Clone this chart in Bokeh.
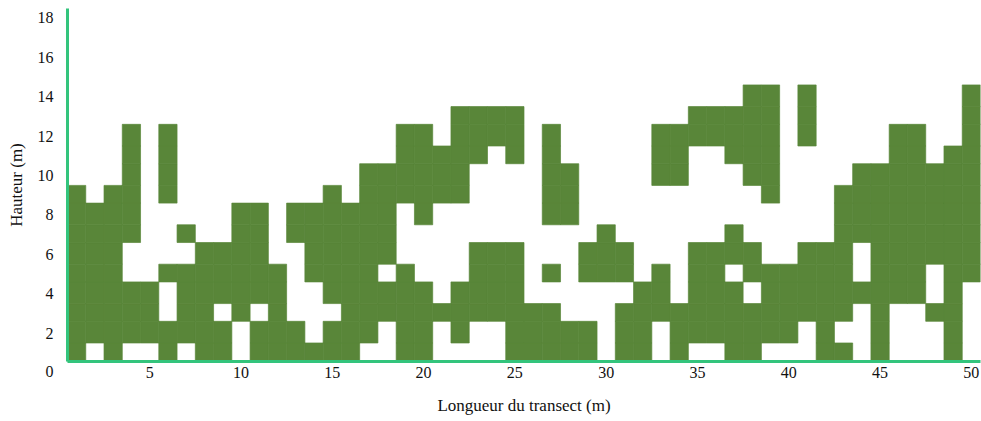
from bokeh.plotting import figure
from bokeh.models import ColumnDataSource, Range1d, FixedTicker
from bokeh.embed import file_html
from bokeh.resources import INLINE

# Transect positions (m) and the occupied height classes at each position
positions = list(range(1, 51))
occupied = [
    [1, 2, 3, 4, 5, 6, 7, 8, 9],            # 1
    [2, 3, 4, 5, 6, 7, 8],                  # 2
    [1, 2, 3, 4, 5, 6, 7, 8, 9],            # 3
    [2, 3, 4, 7, 8, 9, 10, 11, 12],         # 4
    [2, 3, 4],                              # 5
    [1, 2, 5, 9, 10, 11, 12],               # 6
    [2, 3, 4, 5, 7],                        # 7
    [1, 2, 3, 4, 5, 6],                     # 8
    [1, 2, 4, 5, 6],                        # 9
    [3, 4, 5, 6, 7, 8],                     # 10
    [1, 2, 4, 5, 6, 7, 8],                  # 11
    [1, 2, 3, 4, 5],                        # 12
    [1, 2, 7, 8],                           # 13
    [1, 5, 6, 7, 8],                        # 14
    [1, 2, 4, 5, 6, 7, 8, 9],               # 15
    [1, 2, 3, 4, 5, 6, 7, 8],               # 16
    [2, 3, 4, 5, 6, 7, 8, 9, 10],           # 17
    [3, 4, 6, 7, 8, 9, 10],                 # 18
    [1, 2, 3, 4, 5, 9, 10, 11, 12],         # 19
    [1, 2, 3, 4, 8, 9, 10, 11, 12],         # 20
    [3, 9, 10, 11],                         # 21
    [2, 3, 4, 9, 10, 11, 12, 13],           # 22
    [3, 4, 5, 6, 11, 12, 13],               # 23
    [3, 4, 5, 6, 12, 13],                   # 24
    [1, 2, 3, 4, 5, 6, 11, 12, 13],         # 25
    [1, 2, 3],                              # 26
    [1, 2, 3, 5, 8, 9, 10, 11, 12],         # 27
    [1, 2, 8, 9, 10],                       # 28
    [1, 2, 5, 6],                           # 29
    [5, 6, 7],                              # 30
    [1, 2, 3, 5, 6],                        # 31
    [1, 2, 3, 4],                           # 32
    [3, 4, 5, 10, 11, 12],                  # 33
    [1, 2, 3, 10, 11, 12],                  # 34
    [2, 3, 4, 5, 6, 12, 13],                # 35
    [2, 3, 4, 5, 6, 12, 13],                # 36
    [1, 2, 3, 4, 6, 7, 11, 12, 13],         # 37
    [1, 2, 3, 5, 6, 10, 11, 12, 13, 14],    # 38
    [2, 3, 4, 5, 9, 10, 11, 12, 13, 14],    # 39
    [2, 3, 4, 5],                           # 40
    [3, 4, 5, 6, 12, 13, 14],               # 41
    [1, 2, 3, 4, 5, 6],                     # 42
    [1, 3, 4, 5, 6, 7, 8, 9],               # 43
    [4, 7, 8, 9, 10],                       # 44
    [1, 2, 3, 4, 5, 6, 7, 8, 9, 10],        # 45
    [4, 5, 6, 7, 8, 9, 10, 11, 12],         # 46
    [4, 5, 6, 7, 8, 9, 10, 11, 12],         # 47
    [3, 6, 7, 8, 9, 10],                    # 48
    [1, 2, 3, 4, 5, 6, 7, 8, 9, 10, 11],    # 49
    [5, 6, 7, 8, 9, 10, 11, 12, 13, 14],    # 50
]
# Height-class boundaries (m): class k spans class_edges[k-1] .. class_edges[k]
class_edges = [0.5, 1.5, 2.6, 3.5, 4.6, 5.5, 6.6, 7.5, 8.6, 9.5, 10.6, 11.5, 12.6, 13.5, 14.6]

x_ticks = [5, 10, 15, 20, 25, 30, 35, 40, 45, 50]
y_ticks = [2, 4, 6, 8, 10, 12, 14, 16, 18]
origin_label = "0"

left, right, bottom, top = [], [], [], []
for pos, classes in zip(positions, occupied):
    for k in classes:
        left.append(pos - 0.5)
        right.append(pos + 0.5)
        bottom.append(class_edges[k - 1])
        top.append(class_edges[k])

src = ColumnDataSource(dict(left=left, right=right, bottom=bottom, top=top))

CELL = "#598639"
Y0 = 0.56
p = figure(output_backend="svg", toolbar_location=None,
           frame_width=913, frame_height=353,
           x_range=Range1d(0.5, 50.5), y_range=Range1d(Y0, 18.48),
           min_border_left=67, min_border_right=1, min_border_top=8,
           min_border_bottom=52)
p.background_fill_color = "white"
p.border_fill_color = "white"
p.outline_line_color = None
p.xgrid.visible = False
p.ygrid.visible = False

p.quad(left="left", right="right", bottom="bottom", top="top", source=src,
       fill_color=CELL, line_color=CELL, line_width=0.7)

FONT = "Liberation Serif"
axis_green = "#33c47c"
for ax in (p.xaxis[0], p.yaxis[0]):
    ax.axis_line_color = axis_green
    ax.axis_line_width = 3
    ax.major_tick_line_color = None
    ax.minor_tick_line_color = None
    ax.major_tick_out = 0
    ax.major_tick_in = 0
    ax.major_label_text_font = FONT
    ax.major_label_text_font_size = "16px"
    ax.major_label_text_color = "#111111"
    ax.axis_label_text_font = FONT
    ax.axis_label_text_font_size = "17px"
    ax.axis_label_text_font_style = "normal"
    ax.axis_label_text_color = "#111111"

# the origin "0" sits just below the axis corner: show it on a tick at the
# bottom edge of the frame, pushed down one line
origin_tick = Y0 + 0.005
p.xaxis.ticker = FixedTicker(ticks=x_ticks)
p.yaxis.ticker = FixedTicker(ticks=[origin_tick] + y_ticks)
p.yaxis.major_label_overrides = {origin_tick: "\n" + origin_label}
p.xaxis.axis_label = "Longueur du transect (m)"
p.yaxis.axis_label = "Hauteur (m)"
p.xaxis.major_label_standoff = 5
p.xaxis.axis_label_standoff = 15
p.yaxis.major_label_standoff = 14
p.yaxis.axis_label_standoff = 9

open("out.html", "w").write(file_html(p, INLINE))
